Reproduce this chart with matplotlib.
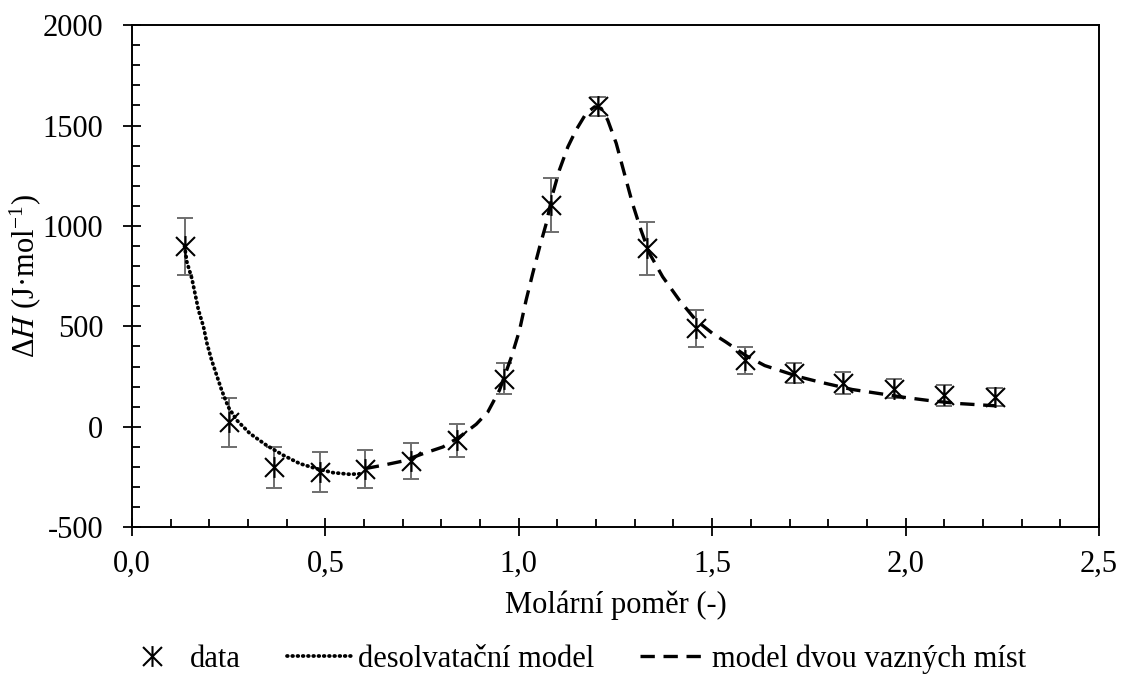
import matplotlib
matplotlib.use("Agg")
import matplotlib.pyplot as plt
from matplotlib.path import Path
from matplotlib.ticker import MultipleLocator

plt.rcParams['font.family'] = ['Liberation Serif', 'DejaVu Serif']
plt.rcParams['mathtext.fontset'] = 'stix'
plt.rcParams['axes.unicode_minus'] = False

# measured points
ratio = [0.136, 0.252, 0.368, 0.485, 0.603, 0.721, 0.840, 0.963, 1.084,
         1.206, 1.332, 1.458, 1.585, 1.712, 1.839, 1.969, 2.100, 2.231]
dH = [900, 22, -200, -225, -208, -170, -67, 240, 1104,
      1595, 888, 490, 332, 268, 219, 190, 157, 149]
dH_err = [142, 122, 102, 101, 95, 91, 83, 77, 135,
          48, 133, 94, 67, 52, 53, 47, 52, 46]

# desolvation model curve
desolv_x = [0.136, 0.142, 0.155, 0.163, 0.172, 0.185, 0.194, 0.206, 0.219, 0.232,
            0.249, 0.271, 0.305, 0.348, 0.391, 0.434, 0.477, 0.520, 0.563, 0.600]
desolv_y = [900, 821, 738, 664, 581, 498, 415, 332, 257, 182,
            99, 33, -33, -92, -141, -183, -208, -228, -236, -233]

# two binding sites model curve
two_x = [0.602, 0.649, 0.701, 0.753, 0.804, 0.847, 0.890, 0.920, 0.950, 0.981,
         1.002, 1.019, 1.036, 1.054, 1.071, 1.088, 1.105, 1.127, 1.148, 1.174,
         1.196, 1.213, 1.230, 1.252, 1.273, 1.294, 1.316, 1.338, 1.372, 1.415,
         1.458, 1.501, 1.535, 1.585, 1.636, 1.725, 1.776, 1.862, 1.931, 2.000,
         2.069, 2.138, 2.231]
two_y = [-208, -191, -170, -133, -100, -50, 13, 74, 182, 348,
         481, 631, 763, 896, 1012, 1162, 1278, 1394, 1477, 1560,
         1593, 1585, 1527, 1411, 1261, 1112, 979, 863, 747, 631,
         531, 465, 423, 357, 305, 249, 224, 186, 166, 146,
         129, 116, 105]

xtick_vals = [0.0, 0.5, 1.0, 1.5, 2.0, 2.5]
xtick_labels = ["0,0", "0,5", "1,0", "1,5", "2,0", "2,5"]
ytick_vals = [-500, 0, 500, 1000, 1500, 2000]

# X with a vertical stroke
star = Path([(-1, -1), (1, 1), (-1, 1), (1, -1), (0, -1.1), (0, 1.1)],
            [Path.MOVETO, Path.LINETO, Path.MOVETO, Path.LINETO, Path.MOVETO, Path.LINETO])

fig = plt.figure(figsize=(11.22, 6.77), dpi=100)
ax = fig.add_axes([0.1176, 0.2211, 0.8619, 0.7419])

ax.errorbar(ratio, dH, yerr=dH_err, fmt='none', ecolor='#6e6e6e',
            elinewidth=1.4, capsize=5.5, capthick=1.4, zorder=2)
ax.plot(desolv_x, desolv_y, color='black', lw=2.7, ls=(0, (0.2, 1.2)),
        dash_capstyle='round', label='desolvatační model', zorder=3)
ax.plot(two_x, two_y, color='black', lw=2.4, ls=(0, (4.3, 2.6)),
        label='model dvou vazných míst', zorder=3)
ax.plot(ratio, dH, ls='none', marker=star, ms=15, mfc='none', mec='black',
        mew=1.5, label='data', zorder=4)

ax.set_xlim(0, 2.5)
ax.set_ylim(-500, 2000)
ax.set_xticks(xtick_vals)
ax.set_xticklabels(xtick_labels)
ax.set_yticks(ytick_vals)
ax.xaxis.set_minor_locator(MultipleLocator(0.1))
ax.yaxis.set_minor_locator(MultipleLocator(100))
ax.tick_params(which='major', direction='inout', length=13, width=1.3,
               labelsize=22, top=False, right=False)
ax.tick_params(axis='y', which='major', pad=14)
ax.tick_params(axis='x', which='major', pad=10)
ax.tick_params(which='minor', direction='in', length=6, width=1.3,
               top=False, right=False)
for s in ax.spines.values():
    s.set_linewidth(1.4)
    s.set_color('black')

ax.set_xlabel('Molární poměr (-)', fontsize=22, labelpad=8)
ax.set_ylabel(r'Δ$\it{H}$ (J·mol$^{\mathregular{-1}}$)', fontsize=22, labelpad=-1)

h, l = ax.get_legend_handles_labels()
order = [2, 0, 1]
fig.legend([h[i] for i in order], [l[i] for i in order], loc='center',
           bbox_to_anchor=(0.51, 0.026), ncol=3, frameon=False, fontsize=22,
           handlelength=2.2, handletextpad=0.15, columnspacing=1.5,
           borderpad=0, borderaxespad=0)

fig.savefig('out.png', dpi=100)
